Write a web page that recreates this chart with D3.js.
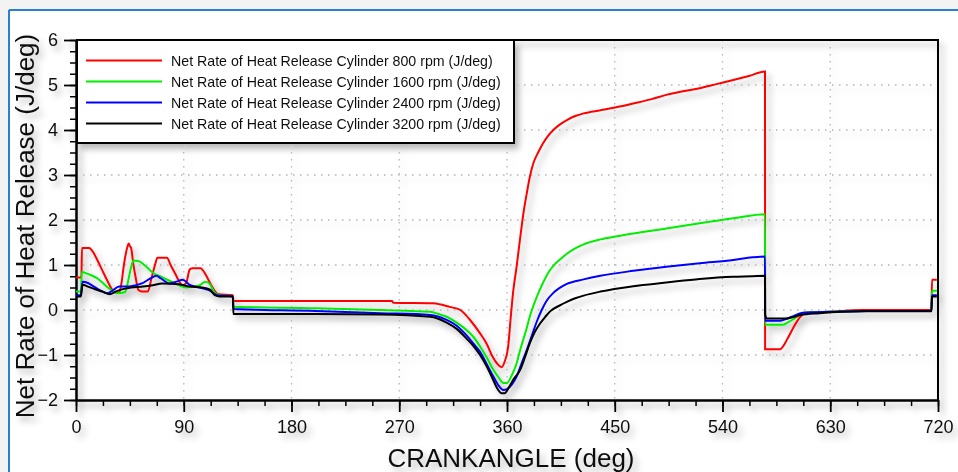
<!DOCTYPE html>
<html>
<head>
<meta charset="utf-8">
<script src="https://cdn.jsdelivr.net/npm/d3@7"></script>
<style>
  html, body { margin: 0; padding: 0; background: #f3f3f3; }
  #chart { width: 958px; height: 472px; }
  text { font-family: "Liberation Sans", Arial, sans-serif; }
</style>
</head>
<body>
<div id="chart"></div>
<script>
// series: [crank angle (deg), net rate of heat release (J/deg)]
var rpm800 = [[0,0.72],[4.5,0.72],[5,1.38],[11,1.38],[14,1.3],[18,1.1],[22,0.88],[26,0.66],[30,0.46],[32,0.4],[36,0.38],[38,0.6],[40,1.0],[42,1.3],[44,1.48],[45,1.42],[46,1.38],[48,1.0],[50,0.7],[52,0.45],[55,0.41],[60,0.41],[63,0.7],[66,1.0],[68,1.16],[76,1.16],[79,1.0],[83,0.8],[87,0.6],[89,0.55],[92,0.6],[95,0.9],[97,0.93],[104,0.93],[108,0.8],[112,0.6],[116,0.42],[119,0.35],[131,0.33],[131.5,0.2],[200,0.2],[264,0.2],[265,0.16],[298,0.15],[305,0.12],[312,0.07],[321,0],[330,-0.25],[337.5,-0.52],[343,-0.75],[348,-1.04],[352,-1.2],[355.5,-1.27],[358,-1.15],[361,-0.81],[363,-0.2],[365,0.37],[368,0.96],[371,1.6],[374,2.2],[376.5,2.59],[379,2.95],[382,3.26],[386,3.5],[390,3.7],[394,3.86],[398.7,4.0],[404,4.12],[410,4.22],[417,4.31],[424,4.37],[438,4.44],[452,4.51],[465.5,4.59],[480,4.68],[493,4.78],[507,4.86],[521,4.93],[535,5.02],[549,5.11],[562,5.2],[575.5,5.3],[575.6,-0.87],[588,-0.87],[594.5,-0.63],[599.6,-0.37],[605,-0.15],[610,-0.06],[630,-0.04],[656,0.0],[714.5,0.0],[715,0.67],[719,0.67]];

var rpm1600 = [[0,0.41],[4,0.41],[5,0.85],[8,0.82],[12,0.78],[18,0.7],[24,0.56],[29,0.45],[35,0.37],[41,0.4],[44,0.7],[46,0.95],[48,1.1],[52,1.09],[57,1.0],[62,0.88],[66,0.8],[71,0.74],[78,0.65],[84,0.57],[92,0.5],[98,0.52],[104,0.56],[108,0.63],[111,0.6],[116,0.38],[120,0.33],[131,0.3],[131.5,0.07],[200,0.04],[254,0.0],[296,-0.04],[303,-0.09],[309.6,-0.15],[318,-0.28],[326,-0.44],[332,-0.6],[337.5,-0.81],[343,-1.05],[348.6,-1.33],[353,-1.5],[357,-1.62],[360,-1.62],[364,-1.45],[368,-1.19],[371,-0.89],[376.5,-0.4],[379,-0.15],[385,0.3],[390,0.6],[395,0.85],[400,1.02],[405,1.14],[410,1.25],[417,1.37],[424,1.46],[438,1.57],[452,1.64],[465.5,1.7],[493,1.81],[521,1.93],[549,2.04],[575.5,2.13],[575.6,-0.33],[590,-0.33],[595,-0.27],[600,-0.19],[608,-0.06],[630,-0.04],[660,-0.02],[714.5,-0.02],[715,0.43],[719,0.43]];

var rpm2400 = [[0,0.33],[4,0.33],[5.5,0.63],[10,0.6],[15,0.52],[20,0.44],[26,0.37],[30,0.42],[36,0.52],[44,0.52],[50,0.55],[55,0.59],[62,0.7],[67,0.76],[71,0.7],[78,0.59],[84,0.63],[89,0.67],[95,0.56],[103,0.5],[111,0.44],[118,0.33],[131,0.3],[131.5,0.02],[200,-0.02],[254,-0.07],[296,-0.11],[309.6,-0.22],[318,-0.35],[326,-0.56],[332,-0.75],[337.5,-0.93],[343,-1.2],[348.6,-1.48],[353,-1.68],[357,-1.78],[360,-1.76],[364,-1.66],[368,-1.48],[372,-1.2],[376.5,-0.89],[381,-0.55],[385,-0.25],[389,0.0],[393,0.2],[398.7,0.38],[404,0.49],[410,0.58],[424,0.68],[438,0.76],[465.5,0.87],[493,0.96],[521,1.04],[549,1.11],[565,1.17],[575.5,1.19],[575.6,-0.24],[588,-0.24],[593,-0.2],[598,-0.15],[607,-0.06],[630,-0.04],[660,-0.02],[714.5,-0.02],[715,0.33],[719,0.33]];

var rpm3200 = [[0,0.3],[4,0.3],[5.5,0.56],[10,0.52],[16,0.46],[22,0.41],[28,0.35],[34,0.42],[40,0.47],[46,0.5],[56,0.52],[64,0.55],[72,0.59],[86,0.57],[95,0.52],[105,0.5],[112,0.45],[116,0.33],[120,0.3],[131,0.3],[131.5,-0.09],[200,-0.09],[254,-0.1],[296,-0.15],[309.6,-0.28],[318,-0.42],[326,-0.63],[332,-0.8],[337.5,-1.0],[343,-1.25],[348.6,-1.56],[352,-1.75],[355.6,-1.85],[358,-1.85],[362,-1.7],[366,-1.52],[371,-1.33],[375,-1.05],[379,-0.74],[383,-0.5],[387.6,-0.3],[392,-0.15],[396,-0.03],[404,0.1],[410,0.18],[417,0.26],[424,0.32],[438,0.41],[465.5,0.53],[493,0.61],[521,0.69],[549,0.74],[565,0.75],[575.5,0.76],[575.6,-0.1],[577,-0.19],[593,-0.19],[600,-0.15],[605,-0.11],[621,-0.07],[640,-0.04],[660,-0.03],[714.5,-0.03],[715,0.3],[719,0.3]];

var seriesNames = [
    "Net Rate of Heat Release Cylinder 800 rpm (J/deg)",
    "Net Rate of Heat Release Cylinder 1600 rpm (J/deg)",
    "Net Rate of Heat Release Cylinder 2400 rpm (J/deg)",
    "Net Rate of Heat Release Cylinder 3200 rpm (J/deg)"
];
var seriesColors = ["#ff0000", "#00ee00", "#0000ff", "#000000"];
var xTicks = [0, 90, 180, 270, 360, 450, 540, 630, 720];
var yTicks = [-2, -1, 0, 1, 2, 3, 4, 5, 6];

var allSeries = [rpm800, rpm1600, rpm2400, rpm3200];

var W = 958, H = 472;
var margin = {top: 40, right: 20, bottom: 72, left: 76};
var width = 938 - margin.left;
var height = 400 - margin.top;

var svg = d3.select("#chart").append("svg")
    .attr("width", W)
    .attr("height", H);

// drop shadow like the original export
var defs = svg.append("defs");
var f = defs.append("filter").attr("id", "shadow")
    .attr("x", "-10%").attr("y", "-10%").attr("width", "130%").attr("height", "130%");
f.append("feDropShadow")
    .attr("dx", 4).attr("dy", 5)
    .attr("stdDeviation", 3)
    .attr("flood-color", "#000")
    .attr("flood-opacity", 0.28);

// panel background + blue frame
svg.append("rect").attr("x", 9).attr("y", 10).attr("width", W).attr("height", H).attr("fill", "#fff");
svg.append("line").attr("x1", 9).attr("x2", 9).attr("y1", 10).attr("y2", H).attr("stroke", "#2b7fd2").attr("stroke-width", 2);
svg.append("line").attr("x1", 9).attr("x2", W).attr("y1", 10).attr("y2", 10).attr("stroke", "#2b7fd2").attr("stroke-width", 2);

var chart = svg.append("g").attr("filter", "url(#shadow)");
var plot = chart.append("g").attr("transform", `translate(${margin.left},${margin.top})`);

var x = d3.scaleLinear().domain([0, 720]).range([0, width]);
var y = d3.scaleLinear().domain([-2, 6]).range([height, 0]);

// grid
plot.append("g").selectAll("line")
    .data(xTicks.slice(1, -1))
    .enter().append("line")
    .attr("x1", d => x(d)).attr("x2", d => x(d))
    .attr("y1", 0).attr("y2", height)
    .attr("stroke", "#b4b4b4").attr("stroke-width", 1.3)
    .attr("stroke-dasharray", "1.5,5.5");

plot.append("g").selectAll("line")
    .data(yTicks.slice(1, -1))
    .enter().append("line")
    .attr("x1", 0).attr("x2", width)
    .attr("y1", d => y(d)).attr("y2", d => y(d))
    .attr("stroke", "#b4b4b4").attr("stroke-width", 1.3)
    .attr("stroke-dasharray", "1.5,5.5");

// minor ticks
plot.append("g")
    .attr("transform", `translate(0,${height})`)
    .call(d3.axisBottom(x).tickValues(d3.range(0, 721, 22.5)).tickSize(6).tickFormat(""))
    .call(g => g.select(".domain").remove())
    .selectAll("line").attr("stroke-width", 1.5);

plot.append("g")
    .call(d3.axisLeft(y).tickValues(d3.range(-2, 6.01, 0.25)).tickSize(6).tickFormat(""))
    .call(g => g.select(".domain").remove())
    .selectAll("line").attr("stroke-width", 1.5);

// major ticks + labels
var xAxis = plot.append("g")
    .attr("transform", `translate(0,${height})`)
    .call(d3.axisBottom(x).tickValues(xTicks).tickSize(12).tickSizeOuter(0).tickPadding(8));
xAxis.selectAll("line").attr("stroke-width", 1.8);
xAxis.select(".domain").attr("stroke-width", 2.5);
xAxis.selectAll("text").attr("font-size", 18).attr("fill", "#111");

var yAxis = plot.append("g")
    .call(d3.axisLeft(y).tickValues(yTicks).tickSize(12).tickSizeOuter(0).tickPadding(6));
yAxis.selectAll("line").attr("stroke-width", 1.8);
yAxis.select(".domain").attr("stroke-width", 2.5);
yAxis.selectAll("text").attr("font-size", 18).attr("fill", "#111");

// frame (top + right)
plot.append("path")
    .attr("d", `M0,0H${width}V${height}`)
    .attr("fill", "none").attr("stroke", "#000").attr("stroke-width", 2);

// lines
var line = d3.line()
    .x(d => x(d[0]))
    .y(d => y(d[1]))
    .curve(d3.curveMonotoneX);

plot.append("g").selectAll("path")
    .data(allSeries)
    .enter().append("path")
    .attr("d", line)
    .attr("fill", "none")
    .attr("stroke", (d, i) => seriesColors[i])
    .attr("stroke-width", 2)
    .attr("stroke-linejoin", "miter");

// legend
var legend = plot.append("g").attr("transform", "translate(1,0)");
legend.append("rect")
    .attr("width", 437).attr("height", 103)
    .attr("fill", "#fff").attr("stroke", "#000").attr("stroke-width", 2);

var items = legend.selectAll(".item")
    .data(seriesNames)
    .enter().append("g")
    .attr("transform", (d, i) => `translate(0,${20.5 + i * 21})`);

items.append("line")
    .attr("x1", 9).attr("x2", 85)
    .attr("stroke", (d, i) => seriesColors[i])
    .attr("stroke-width", 2);

items.append("text")
    .attr("x", 94).attr("y", 5)
    .attr("font-size", 14.2)
    .attr("fill", "#111")
    .text(d => d);

// axis titles
chart.append("text")
    .attr("x", margin.left + width / 2 + 4)
    .attr("y", 467)
    .attr("text-anchor", "middle")
    .attr("font-size", 26)
    .attr("fill", "#111")
    .text("CRANKANGLE (deg)");

chart.append("text")
    .attr("transform", "translate(34,226) rotate(-90)")
    .attr("text-anchor", "middle")
    .attr("font-size", 26)
    .attr("fill", "#111")
    .text("Net Rate of Heat Release (J/deg)");
</script>
</body>
</html>
